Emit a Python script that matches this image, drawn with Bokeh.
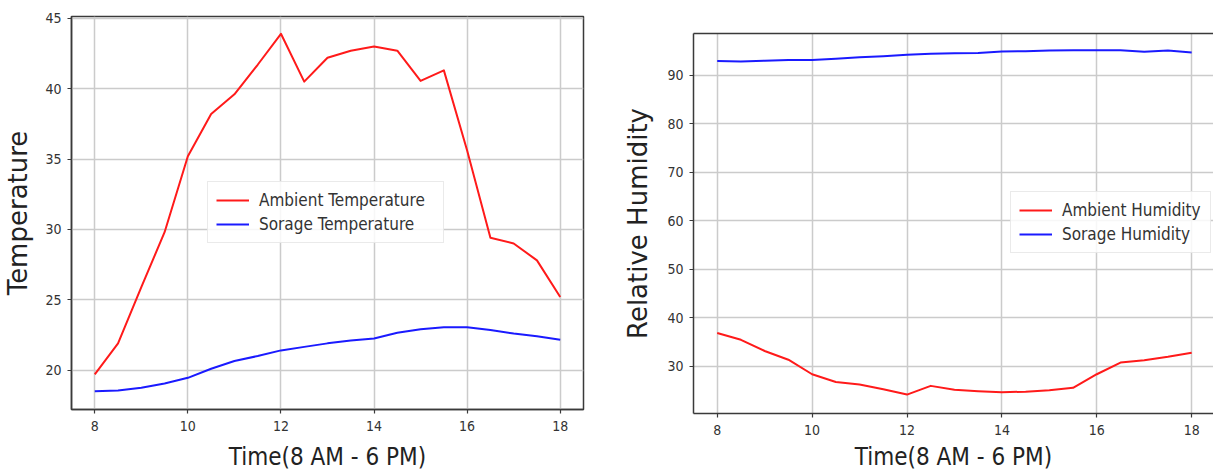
from bokeh.plotting import figure
from bokeh.layouts import row, column
from bokeh.models import Range1d, FixedTicker, LinearAxis, Legend, LegendItem
from bokeh.embed import file_html
from bokeh.resources import INLINE

# ---- data ----
hours = [8, 8.5, 9, 9.5, 10, 10.5, 11, 11.5, 12, 12.5, 13,
         13.5, 14, 14.5, 15, 15.5, 16, 16.5, 17, 17.5, 18]

ambient_temperature = [19.7, 21.9, 25.9, 29.8, 35.2, 38.2, 39.6, 41.7, 43.9, 40.5, 42.2,
                       42.7, 43.0, 42.7, 40.55, 41.3, 35.6, 29.4, 29.0, 27.8, 25.2]
storage_temperature = [18.5, 18.55, 18.75, 19.05, 19.45, 20.1, 20.65, 21.0, 21.4, 21.65, 21.9,
                       22.1, 22.25, 22.65, 22.9, 23.05, 23.05, 22.85, 22.6, 22.4, 22.15]

ambient_humidity = [36.8, 35.4, 33.1, 31.3, 28.3, 26.7, 26.2, 25.2, 24.1, 25.9, 25.1,
                    24.8, 24.6, 24.7, 25.0, 25.5, 28.3, 30.7, 31.2, 31.9, 32.75]
storage_humidity = [92.95, 92.8, 93.0, 93.15, 93.15, 93.4, 93.7, 93.9, 94.2, 94.4, 94.55,
                    94.6, 94.9, 94.95, 95.1, 95.15, 95.15, 95.15, 94.85, 95.1, 94.7]

x_ticks = [8, 10, 12, 14, 16, 18]
temperature_ticks = [20, 25, 30, 35, 40, 45]
humidity_ticks = [30, 40, 50, 60, 70, 80, 90]

x_label = "Time(8 AM - 6 PM)"
temperature_label = "Temperature"
humidity_label = "Relative Humidity"
temperature_legend = ["Ambient Temperature", "Sorage Temperature"]
humidity_legend = ["Ambient Humidity", "Sorage Humidity"]

# ---- styling ----
FONT = "DejaVu Sans"
FONT_H = "DejaVu Sans Condensed"
SPINE = "#3a3a3a"
GRID = "#cbcbcb"
RED = "#ff1a1a"
BLUE = "#1a1aff"


def style_axes(p, yticks, y_label_standoff, x_label_standoff):
    p.background_fill_color = "white"
    p.border_fill_color = "white"
    axes = [p.below[0], p.left[0]]
    for ax in axes:
        ax.axis_line_color = SPINE
        ax.axis_line_width = 1.5
        ax.major_tick_line_color = SPINE
        ax.major_tick_line_width = 1.2
        ax.major_tick_out = 4
        ax.major_tick_in = 0
        ax.minor_tick_line_color = None
        ax.major_label_text_font = FONT_H
        ax.major_label_text_font_size = "14px"
        ax.major_label_text_color = "#333333"
        ax.axis_label_text_font_style = "normal"
        ax.axis_label_text_color = "#222222"
        ax.major_label_standoff = 7
    xa, ya = p.below[0], p.left[0]
    xa.ticker = FixedTicker(ticks=x_ticks)
    ya.ticker = FixedTicker(ticks=yticks)
    ya.major_label_standoff = 6
    xa.axis_label = x_label
    xa.axis_label_text_font = FONT_H
    xa.axis_label_text_font_size = "24px"
    xa.axis_label_standoff = x_label_standoff
    ya.axis_label_text_font = FONT
    ya.axis_label_text_font_size = "26px"
    ya.axis_label_standoff = y_label_standoff
    p.xgrid.grid_line_color = GRID
    p.ygrid.grid_line_color = GRID
    p.xgrid.grid_line_width = 1.5
    p.ygrid.grid_line_width = 1.5


def add_legend(p, renderers, labels, loc, label_width):
    leg = Legend(items=[LegendItem(label=l, renderers=[r]) for l, r in zip(labels, renderers)],
                 location=loc)
    leg.label_text_font = FONT_H
    leg.label_text_font_size = "17px"
    leg.label_text_color = "#333333"
    leg.glyph_width = 33
    leg.glyph_height = 20
    leg.label_height = 20
    leg.label_width = label_width
    leg.label_standoff = 10
    leg.spacing = 4
    leg.padding = 8
    leg.margin = 0
    leg.border_line_color = "#d6d6d6"
    leg.border_line_width = 1
    leg.background_fill_color = "white"
    leg.background_fill_alpha = 0.85
    p.add_layout(leg, "center")


# ---- left: temperature ----
p1 = figure(width=600, height=474, output_backend="svg", toolbar_location=None, title=None,
            x_range=Range1d(7.5, 18.5), y_range=Range1d(17.2, 45.13),
            min_border_left=69, min_border_right=17, min_border_top=16, min_border_bottom=65)
p1.outline_line_color = SPINE
p1.outline_line_width = 1.5
r1 = p1.line(hours, ambient_temperature, line_color=RED, line_width=2, line_join="round")
r2 = p1.line(hours, storage_temperature, line_color=BLUE, line_width=2, line_join="round")
p1.left[0].axis_label = temperature_label
style_axes(p1, temperature_ticks, 9, 9)
add_legend(p1, [r1, r2], temperature_legend, (136, 166), 176)

# ---- right: humidity ----
p2 = figure(width=613, height=474, output_backend="svg", toolbar_location=None, title=None,
            x_range=Range1d(7.5, 18.46), y_range=Range1d(20.2, 98.6),
            min_border_left=93, min_border_right=0, min_border_top=33, min_border_bottom=61)
p2.outline_line_color = None
r3 = p2.line(hours, ambient_humidity, line_color=RED, line_width=2, line_join="round")
r4 = p2.line(hours, storage_humidity, line_color=BLUE, line_width=2, line_join="round")
p2.left[0].axis_label = humidity_label
style_axes(p2, humidity_ticks, 11, 5)
top_axis = LinearAxis(ticker=FixedTicker(ticks=[]), major_label_text_font_size="0px",
                      major_tick_line_color=None, minor_tick_line_color=None,
                      major_tick_out=0, major_tick_in=0, major_label_standoff=0,
                      axis_line_color=SPINE, axis_line_width=1.5)
p2.add_layout(top_axis, "above")
add_legend(p2, [r3, r4], humidity_legend, (317, 160), 140)

layout = row(column(p1), column(p2))
open("out.html", "w").write(file_html(layout, INLINE))
